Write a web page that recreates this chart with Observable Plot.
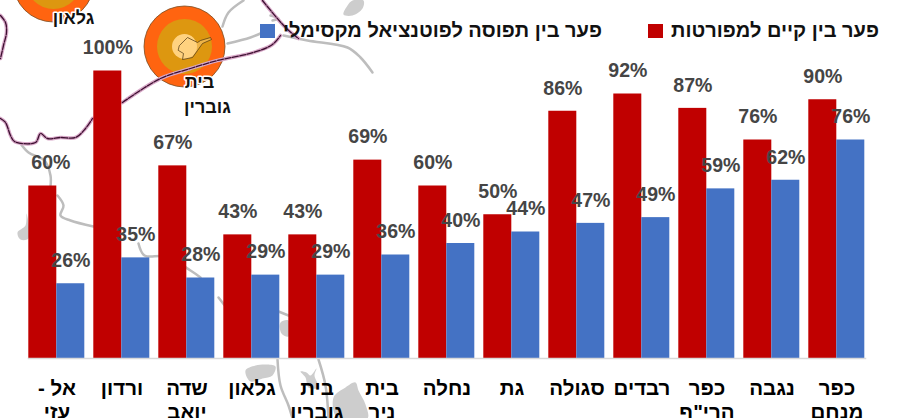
<!DOCTYPE html>
<html lang="he">
<head>
<meta charset="utf-8">
<script src="https://cdn.jsdelivr.net/npm/d3@7"></script>
<script src="https://cdn.jsdelivr.net/npm/@observablehq/plot@0.6"></script>
<style>
  html, body { margin: 0; padding: 0; background: #fff; }
  #chart { position: relative; width: 904px; height: 418px; overflow: hidden; font-family: "Liberation Sans", Arial, sans-serif; }
  #chart svg { position: absolute; left: 0; top: 0; }
  .legend { position: absolute; top: 18px; height: 24px; line-height: 24px; font-size: 20px; font-weight: bold; color: #111; white-space: nowrap; direction: rtl; }
  .sw { position: absolute; top: 24px; width: 15px; height: 14px; }
</style>
</head>
<body>
<div id="chart"></div>
<script>
const categories = ["אל - עזי", "ורדון", "שדה יואב", "גלאון", "בית גוברין", "בית ניר", "נחלה", "גת", "סגולה", "רבדים", "כפר הרי\"ף", "נגבה", "כפר מנחם"];
const tickLabels = ["אל -\u200F\nעזי", "ורדון", "שדה\nיואב", "גלאון", "בית\nגוברין", "בית\nניר", "נחלה", "גת", "סגולה", "רבדים", "כפר\nהרי\"ף", "נגבה", "כפר\nמנחם"];
const existingGap = [60, 100, 67, 43, 43, 69, 60, 50, 86, 92, 87, 76, 90];
const potentialGap = [26, 35, 28, 29, 29, 36, 40, 44, 47, 49, 59, 62, 76];
const seriesNames = ["פער בין קיים למפורטות", "פער בין תפוסה לפוטנציאל מקסימלי"];

// Background map in its own map coordinates
const mapRoads = [
  [[20,143],[28,152],[44,160],[50,175],[50,186]],
  [[57,195],[63,205],[60,215],[70,220],[93,226]],
  [[138,243],[144,255],[165,256],[190,270],[200,277]],
  [[218,297],[225,306]],
  [[278,311],[288,315]],
  [[277,359],[280,385],[288,405],[292,418]],
  [[318,359],[325,385],[328,418]],
  [[243,0],[228,12],[222,26]],
  [[227,43],[250,37],[262,32]],
  [[283,35],[307,40],[347,47],[360,57],[372,72]],
  [[270,15],[278,18],[272,20]]
];
const mapBorders = [
  [[0,118],[5,122],[10,135],[14,141],[35,142],[40,133],[47,138],[60,137],[75,137],[85,128],[92,118]],
  [[122,102],[160,78],[190,68],[217,60],[253,52],[272,44],[280,35]],
  [[262,0],[285,27],[298,38]],
  [[0,15],[5,22],[6,32],[3,45],[0,58]]
];
const mapLakes = [
  [[343,14],[347,5],[352,0],[363,0],[362,8],[352,15]],
  [[245,370],[255,365],[267,364],[275,366],[272,375],[262,378],[250,381]],
  [[300,371],[306,372],[310,375],[316,368],[314,375],[318,387],[308,387],[305,377]],
  [[333,397],[345,387],[355,382],[358,390],[365,404],[367,418],[337,418]],
  [[280,322],[288,320],[288,336],[281,333]],
  [[17,232],[25,225],[26,213],[28,238],[20,239]]
];
const mapTown = [[179,45],[187,37],[197,42],[200,40],[210,37],[211,39],[202,43],[197,50],[192,57],[182,59],[183,53],[178,50]];
const mapCircles = [[53,-19],[184,46]];
const mapPlaces = [
  {name: "גלאון", at: [73, 18]},
  {name: "בית", at: [199, 82]},
  {name: "גוברין", at: [207, 107]}
];

const flat = (lists) => lists.flatMap((pts, i) => pts.map(([x, y]) => ({x, y, i})));
const lineOpts = {x: "x", y: "y", z: "i", curve: "catmull-rom"};

const mapPlot = Plot.plot({
  width: 904, height: 418, margin: 0,
  style: {background: "transparent"},
  x: {type: "identity", axis: null},
  y: {type: "identity", axis: null},
  marks: [
    Plot.line(flat(mapRoads), {...lineOpts, stroke: "#BDBDBD", strokeWidth: 2.5}),
    Plot.line(flat(mapLakes), {...lineOpts, curve: "catmull-rom-closed", fill: "#CDCDCD", stroke: "none"}),
    Plot.dot(mapCircles, {x: d => d[0], y: d => d[1], r: 40.5, fill: "#FF6410", stroke: "#7a4a20", strokeWidth: 0.8}),
    Plot.dot(mapCircles, {x: d => d[0], y: d => d[1], r: 27.5, fill: "#DD9710"}),
    Plot.dot(mapCircles, {x: d => d[0], y: d => d[1], r: 12.5, fill: "#FFD27F"}),
    Plot.line(mapTown, {x: d => d[0], y: d => d[1], curve: "linear-closed", stroke: "#4a3410", strokeWidth: 0.7, fill: "#FFD27F", fillOpacity: 0.5}),
    Plot.line(flat(mapBorders), {...lineOpts, stroke: "#D8A8C8", strokeWidth: 3.6}),
    Plot.line(flat(mapBorders), {...lineOpts, stroke: "#3c1030", strokeWidth: 1.3, strokeDasharray: "6,1.5"}),
    Plot.text(mapPlaces, {x: d => d.at[0], y: d => d.at[1], text: "name", fontSize: 18, fontWeight: "bold", fontFamily: "Liberation Sans, sans-serif", fill: "#111", stroke: "#fff", strokeWidth: 3})
  ]
});

const rows = categories.flatMap((c, i) => [
  {category: c, series: seriesNames[0], value: existingGap[i]},
  {category: c, series: seriesNames[1], value: potentialGap[i]}
]);
const isFirstLabel = d => d.category === categories[0] && d.series === seriesNames[0];
const labelStyle = {
  fx: "category", x: "series", y: "value", text: d => d.value + "%",
  dy: -23, fill: "#454545", fontSize: 19.5, fontWeight: "bold", fontFamily: "Liberation Sans, sans-serif"
};

const chartPlot = Plot.plot({
  width: 904, height: 418,
  marginTop: 0, marginBottom: 60, marginLeft: 22.7, marginRight: 34.3,
  style: {background: "transparent"},
  fx: {domain: categories, paddingInner: 0.125, paddingOuter: 0.0625, label: null},
  x: {domain: seriesNames, padding: 0, axis: null},
  y: {domain: [0, 358 / 2.875], axis: null},
  color: {domain: seriesNames, range: ["#C00000", "#4472C4"]},
  marks: [
    Plot.barY(rows, {fx: "category", x: "series", y: "value", fill: "series"}),
    Plot.frame({anchor: "bottom", facet: "super", stroke: "#D9D9D9", strokeWidth: 1.5}),
    Plot.text(rows.filter(d => !isFirstLabel(d)), labelStyle),
    Plot.text(rows.filter(isFirstLabel), {...labelStyle, dx: 8}),
    Plot.axisFx({
      anchor: "bottom", label: null, tickSize: 0, tickPadding: 19,
      tickFormat: d => tickLabels[categories.indexOf(d)],
      fontSize: 20.5, fontWeight: "bold", fill: "#000", lineHeight: 1.17,
      fontFamily: "Liberation Sans, sans-serif"
    })
  ]
});

const root = document.getElementById("chart");
root.append(mapPlot, chartPlot);
[
  {text: seriesNames[0], right: 904 - 879, swatch: 648, color: "#C00000"},
  {text: seriesNames[1], right: 904 - 602, swatch: 260, color: "#4472C4"}
].forEach(l => {
  const s = document.createElement("div");
  s.className = "sw"; s.style.left = l.swatch + "px"; s.style.background = l.color;
  const t = document.createElement("div");
  t.className = "legend"; t.style.right = l.right + "px"; t.textContent = l.text;
  root.append(s, t);
});
</script>
</body>
</html>
